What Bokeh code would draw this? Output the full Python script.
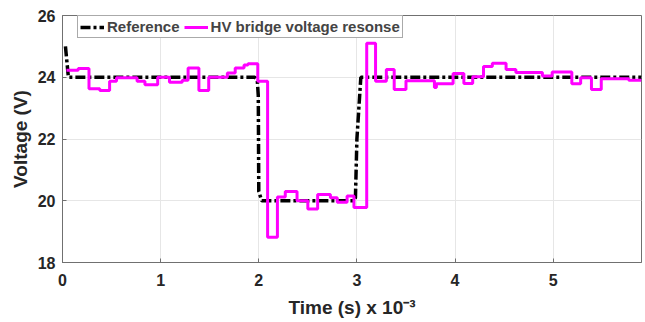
from bokeh.plotting import figure
from bokeh.embed import file_html
from bokeh.resources import INLINE
from bokeh.models import Range1d, FixedTicker, Legend, LegendItem

# Reference (black dash-dot) trajectory, time in ms, voltage in V
ref_t = [0.03, 0.06, 1.96, 1.985, 1.995, 2.0, 2.03, 2.97, 2.985, 3.0, 3.04, 5.9]
ref_v = [25.0, 24.0, 24.0, 23.9, 23.4, 20.3, 20.0, 20.0, 20.1, 22.0, 24.0, 24.0]

# Measured HV bridge voltage response (step levels, starting times in ms)
mag_t = [0.04, 0.16, 0.27, 0.38, 0.48, 0.55, 0.76, 0.84, 0.97, 1.09, 1.22, 1.28,
         1.39, 1.49, 1.68, 1.76, 1.85, 1.89, 1.99, 2.09, 2.19, 2.27, 2.39, 2.50,
         2.60, 2.73, 2.80, 2.90, 2.97, 3.10, 3.19, 3.30, 3.38, 3.50, 3.79, 3.81,
         3.98, 4.09, 4.18, 4.29, 4.38, 4.52, 4.62, 4.89, 4.99, 5.19, 5.28, 5.39,
         5.49, 5.77, 5.90]
mag_v = [24.23, 24.28, 23.63, 23.57, 23.87, 23.98, 23.87, 23.76, 24.0, 23.84, 23.9, 24.3,
         23.57, 24.0, 24.14, 24.3, 24.4, 24.44, 23.87, 18.82, 20.12, 20.3, 20.0, 19.73,
         20.2, 20.1, 19.95, 20.15, 19.78, 25.1, 23.87, 24.25, 23.6, 23.89, 23.67, 23.79,
         24.12, 23.8, 24.02, 24.35, 24.45, 24.25, 24.15, 24.04, 24.17, 23.79, 23.98, 23.6,
         23.95, 23.9, 23.9]

x_ticks = [0, 1, 2, 3, 4, 5]
y_ticks = [18, 20, 22, 24, 26]
legend_labels = ["Reference", "HV bridge voltage resonse"]

FONT = "Liberation Sans"

p = figure(width=643, height=322, output_backend="svg", toolbar_location=None,
           x_range=Range1d(0, 5.9), y_range=Range1d(18, 26),
           min_border_left=62, min_border_right=2, min_border_top=15, min_border_bottom=60)

r_ref = p.line(ref_t, ref_v, line_color="black", line_width=3.5, line_dash="10 3 3 3")
r_mag = p.step(mag_t, mag_v, mode="after", line_color="#ff00ff", line_width=3)

p.xaxis.ticker = FixedTicker(ticks=x_ticks)
p.yaxis.ticker = FixedTicker(ticks=y_ticks)
p.xaxis.axis_label = "Time (s) x 10\u207b\u00b3"
p.yaxis.axis_label = "Voltage (V)"

for ax in (p.xaxis, p.yaxis):
    ax.axis_label_text_font = FONT
    ax.axis_label_text_font_style = "bold"
    ax.axis_label_text_font_size = "19px"
    ax.axis_label_text_color = "#262626"
    ax.major_label_text_font = FONT
    ax.major_label_text_font_style = "bold"
    ax.major_label_text_font_size = "16px"
    ax.major_label_text_color = "#262626"
    ax.axis_line_color = "#707070"
    ax.major_tick_line_color = "#707070"
    ax.major_tick_in = 4
    ax.major_tick_out = 0
    ax.minor_tick_line_color = None

p.xaxis.major_label_standoff = 11
p.yaxis.major_label_standoff = 7
p.xaxis.axis_label_standoff = 8
p.yaxis.axis_label_standoff = 4

p.grid.grid_line_color = "#e6e6e6"
p.outline_line_color = "#707070"
p.outline_line_width = 1
p.background_fill_color = "white"
p.border_fill_color = "white"

legend = Legend(items=[LegendItem(label=legend_labels[0], renderers=[r_ref]),
                       LegendItem(label=legend_labels[1], renderers=[r_mag])],
                orientation="horizontal", location=(15, 224))
legend.label_text_font = FONT
legend.label_text_font_style = "bold"
legend.label_text_font_size = "15px"
legend.label_height = 14
legend.glyph_height = 14
legend.glyph_width = 24
legend.label_standoff = 3
legend.spacing = 4
legend.padding = 2
legend.margin = 0
legend.border_line_color = "#555555"
legend.border_line_width = 1
legend.background_fill_alpha = 1
p.add_layout(legend, "center")

open("out.html", "w").write(file_html(p, INLINE))
